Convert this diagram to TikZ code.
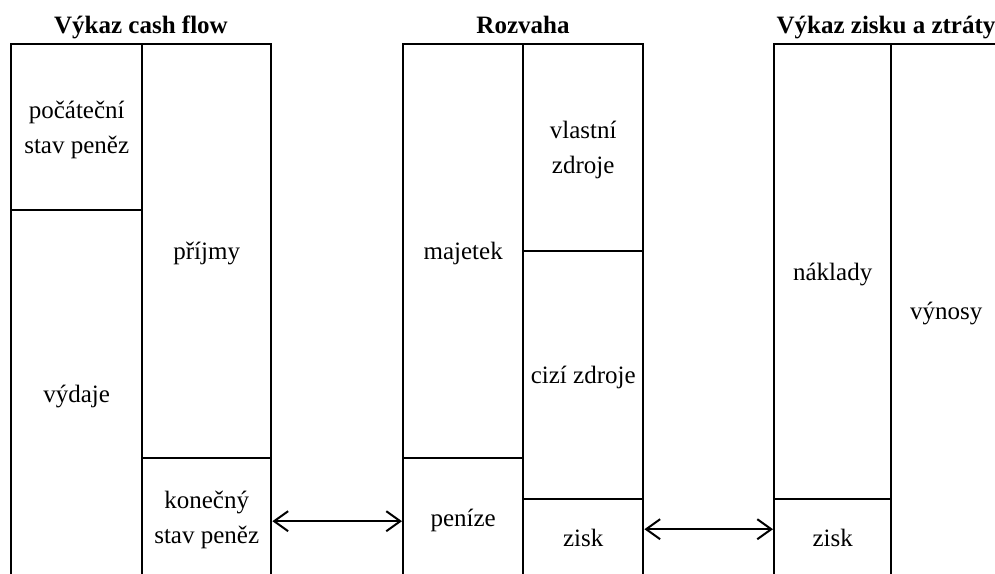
\documentclass[tikz,border=0pt]{standalone}
\usepackage{fontspec}
\setmainfont{Liberation Serif}
\usetikzlibrary{arrows.meta}
\begin{document}
\begin{tikzpicture}[x=1pt,y=-1pt,
  cell/.style={draw, line width=2.4pt, inner sep=0pt, anchor=north west, align=center,
    text depth=0pt, font=\fontsize{25}{35}\selectfont},
  head/.style={font=\fontsize{25}{30}\selectfont\bfseries, anchor=base, inner sep=0pt},
  biarrow/.style={{Straight Barb[length=14pt,width=20pt]}-{Straight Barb[length=14pt,width=20pt]}, line width=2pt}]
\useasboundingbox (0,0) rectangle (995,573);
\clip (0,0) rectangle (995,573);
% headers
\node[head] (h1) at (141,33) {Výkaz cash flow};
\node[head] (h2) at (523,33) {Rozvaha};
\node[head] (h3) at (886,33) {Výkaz zisku a ztráty};
% Výkaz cash flow
\node[cell, minimum width=131pt, minimum height=166pt] (ps) at (10,43) {počáteční\\stav peněz};
\node[cell, minimum width=131pt, minimum height=367pt] (vy) at (10,209) {výdaje};
\node[cell, minimum width=129pt, minimum height=414pt] (pr) at (141,43) {příjmy};
\node[cell, minimum width=129pt, minimum height=119pt] (ks) at (141,457) {konečný\\stav peněz};
% Rozvaha
\node[cell, minimum width=120pt, minimum height=414pt] (ma) at (402,43) {majetek};
\node[cell, minimum width=120pt, minimum height=119pt] (pe) at (402,457) {peníze};
\node[cell, minimum width=120pt, minimum height=207pt] (vz) at (522,43) {vlastní\\zdroje};
\node[cell, minimum width=120pt, minimum height=248pt] (cz) at (522,250) {cizí zdroje};
\node[cell, minimum width=120pt, minimum height=78pt] (zi) at (522,498) {zisk};
% Výkaz zisku a ztráty
\node[cell, minimum width=117pt, minimum height=455pt] (na) at (773,43) {náklady};
\node[cell, minimum width=117pt, minimum height=78pt] (zz) at (773,498) {zisk};
\node[cell, minimum width=110pt, minimum height=533pt] (vn) at (890,43) {výnosy};
% arrows
\draw[biarrow] ([yshift=-3.5pt]ks.east) -- ([yshift=-3.5pt]pe.west);
\draw[biarrow] ([yshift=9pt]zi.east) -- ([yshift=9pt]zz.west);
\end{tikzpicture}
\end{document}
